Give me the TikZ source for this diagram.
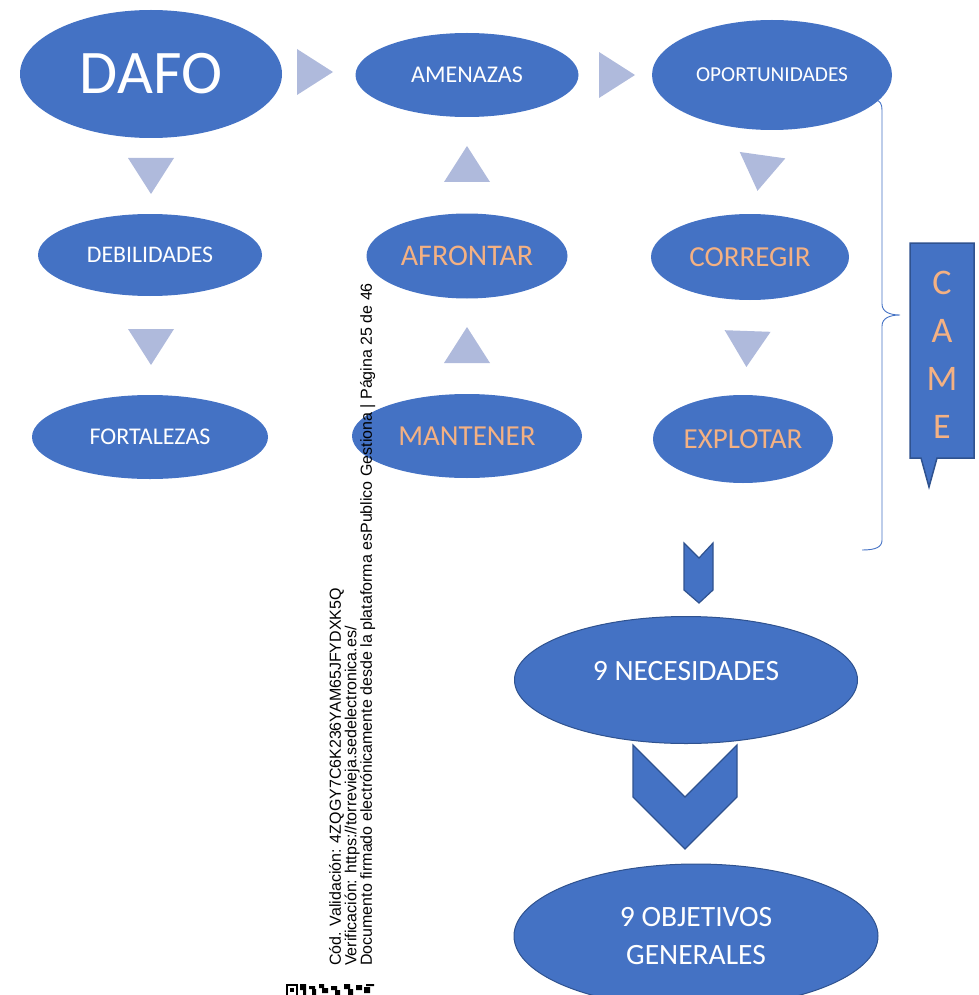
\documentclass[tikz,border=0pt]{standalone}
\usepackage{fontspec}
\setmainfont{Carlito}
\newfontfamily\firmafont{Liberation Sans}
\usetikzlibrary{shapes.geometric,positioning,calc}
\definecolor{colorNODO}{HTML}{4472C4}
\definecolor{colorBORDE}{HTML}{2F528F}
\definecolor{colorFLECHA}{HTML}{AFBADC}
\definecolor{colorTEXTO}{HTML}{F4B183}
\newcommand{\tam}[1]{\fontsize{#1}{1.2\dimexpr#1pt\relax}\selectfont}
\newcommand{\flechatri}[3]{%
  \fill[colorFLECHA, shift={(#1,#2)}, rotate=#3] (-18,-23) -- (18,0) -- (-18,23) -- cycle;}
\tikzset{
   elip/.style={ellipse, fill=colorNODO, inner sep=0pt, text=white, align=center},
   acc/.style={elip, text=colorTEXTO},
   borde/.style={draw=colorBORDE, line width=1pt},
   chev/.style={fill=colorNODO, draw=colorBORDE, line width=1.2pt, line join=miter},
   llave/.style={draw=colorNODO, line width=0.9pt},
}

\begin{document}
\begin{tikzpicture}[x=1pt, y=-1pt]
    \useasboundingbox (0,0) rectangle (978,995);

    \node[elip, minimum width=262, minimum height=128, font=\tam{62}] (dafo) at (151,74) {DAFO};
    \node[elip, minimum width=223, minimum height=84, font=\tam{24}] (amen) at (467,75) {AMENAZAS};
    \node[elip, minimum width=240, minimum height=110, font=\tam{21.3}] (opor) at (772,75) {OPORTUNIDADES};

    \node[elip, minimum width=224, minimum height=82, font=\tam{23.8}] (debil) at (150,255) {DEBILIDADES};
    \node[elip, minimum width=236, minimum height=84, font=\tam{24}] (fort)  at (150,437) {FORTALEZAS};

    \node[acc, minimum width=201, minimum height=85, font=\tam{30}] (afron) at (467,256) {AFRONTAR};
    \node[acc, minimum width=230, minimum height=84, font=\tam{29}] (mant)  at (467,436) {MANTENER};

    \node[acc, minimum width=198, minimum height=86, font=\tam{29}] (corr)  at (750,257) {CORREGIR};
    \node[acc, minimum width=180, minimum height=88, font=\tam{29}] (expl)  at (743,439) {EXPLOTAR};

    \flechatri{315}{72}{0}
    \flechatri{617}{75}{0}
    \flechatri{151}{176}{-90}
    \flechatri{151}{347}{-90}
    \flechatri{467}{164}{90}
    \flechatri{467}{345}{90}
    \flechatri{760}{173}{-98}
    \flechatri{747}{349}{-92}

    % llave CAME
    \draw[llave] (862,550) .. controls (876,550) and (882,547) .. (882,540) -- (882,326)
        .. controls (882,318) and (890,315) .. (900,315)
        .. controls (890,315) and (882,312) .. (882,304) -- (882,110)
        .. controls (882,104) and (880,101) .. (876,100);

    \filldraw[fill=colorNODO, draw=colorBORDE, line width=1.5pt]
        (910,243) -- (974,243) -- (974,458) -- (937,458) -- (929,487) -- (921,458) -- (910,458) -- cycle;
    \node[align=center, text=colorTEXTO, font=\fontsize{36}{48}\selectfont] (came) at (942,355) {C\\A\\M\\E};

    \draw[chev] (684,543) -- (699,558) -- (713,543) -- (713,590) -- (699,603) -- (684,590) -- cycle;

    \node[elip, borde, minimum width=343, minimum height=127, text depth=18pt, font=\tam{29.5}] (neces) at (686,680) {9 NECESIDADES};

    \draw[chev] (633,745) -- (685,797) -- (737,745) -- (737,797) -- (685,849) -- (633,797) -- cycle;

    \node[elip, borde, minimum width=364, minimum height=144, font=\fontsize{29.5}{38}\selectfont] (objet) at (696,936) {9 OBJETIVOS\\GENERALES};

    % firma
    \node[rotate=90, anchor=north west, align=left, inner sep=0pt,
          font=\firmafont\fontsize{16}{15.5}\selectfont] (firma) at (329,966)
        {Cód. Validación: 4ZQGY7C6K236YAM65JFYDXK5Q\\Verificación: https://torrevieja.sedelectronica.es/\\Documento firmado electrónicamente desde la plataforma esPublico Gestiona | Página 25 de 46};

    \draw[line width=2pt] (287,985) rectangle (297,996);
    \fill (290,988) rectangle (294,992);
    \fill (300,984) rectangle (306,990) (303,990) rectangle (306,995) (309,986) rectangle (315,989)
          (312,989) rectangle (316,995) (319,984) rectangle (324,988) (322,988) rectangle (328,993)
          (331,986) rectangle (337,990) (335,990) rectangle (340,995) (344,984) rectangle (350,989)
          (348,989) rectangle (353,995) (356,985) rectangle (362,990) (364,987) rectangle (370,993)
          (366,984) rectangle (374,986);
\end{tikzpicture}
\end{document}
